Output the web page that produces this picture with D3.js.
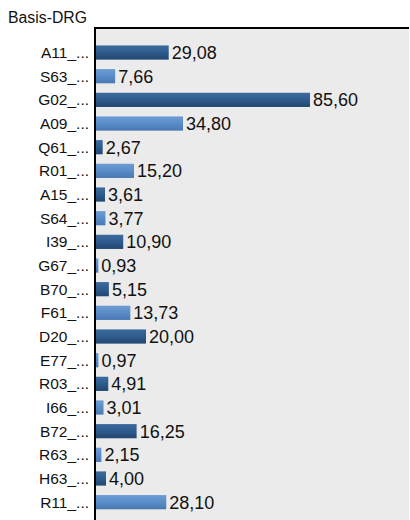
<!DOCTYPE html>
<html lang="de">
  <head>
    <meta charset="UTF-8" />
    <title>Basis-DRG</title>
    <style>
      body { margin: 0; background: #fff; }
      svg text { font-family: "Liberation Sans", Arial, sans-serif; fill: #111; }
    </style>
  </head>
  <body>
    <svg id="svg" width="410" height="520"></svg>

    <script src="https://d3js.org/d3.v7.min.js"></script>
    <script>
      const categories = ["A11_...", "S63_...", "G02_...", "A09_...", "Q61_...", "R01_...", "A15_...",
        "S64_...", "I39_...", "G67_...", "B70_...", "F61_...", "D20_...", "E77_...", "R03_...",
        "I66_...", "B72_...", "R63_...", "H63_...", "R11_..."];
      const values = [29.08, 7.66, 85.6, 34.8, 2.67, 15.2, 3.61, 3.77, 10.9, 0.93, 5.15, 13.73,
        20.0, 0.97, 4.91, 3.01, 16.25, 2.15, 4.0, 28.1];
      const title = "Basis-DRG";

      const data = categories.map((c, i) => ({ name: c, value: values[i] }));

      const svg = d3.select("#svg");
      const plotLeft = 96, plotTop = 28, plotRight = 409;

      // value axis: 2.5 px per unit
      const x = d3.scaleLinear().domain([0, 125.2]).range([plotLeft, plotRight]);
      const y = d3.scaleBand()
        .domain(categories)
        .range([40.7, 514])
        .paddingInner(0.4)
        .paddingOuter(0.2);

      // gradients
      const defs = svg.append("defs");
      const grads = {
        dark: ["#3d6b9c", "#2f5d90", "#234670"],
        light: ["#6c9cd2", "#5c8ec9", "#4878b2"],
      };
      Object.entries(grads).forEach(([id, c]) => {
        const g = defs.append("linearGradient").attr("id", id)
          .attr("x1", 0).attr("y1", 0).attr("x2", 0).attr("y2", 1);
        g.append("stop").attr("offset", "0%").attr("stop-color", c[0]);
        g.append("stop").attr("offset", "45%").attr("stop-color", c[1]);
        g.append("stop").attr("offset", "100%").attr("stop-color", c[2]);
      });

      // plot background
      svg.append("rect")
        .attr("x", plotLeft - 1).attr("y", plotTop)
        .attr("width", plotRight - plotLeft + 1).attr("height", 520 - plotTop)
        .attr("fill", "#ebebeb");

      svg.append("text")
        .attr("x", 8).attr("y", 23)
        .style("font-size", "15.8px")
        .text(title);

      // bars
      svg.selectAll("rect.bar")
        .data(data)
        .enter()
        .append("rect")
        .attr("class", "bar")
        .attr("x", x(0))
        .attr("y", (d) => y(d.name))
        .attr("width", (d) => x(d.value) - x(0))
        .attr("height", y.bandwidth())
        .attr("fill", (d, i) => (i % 2 === 0 ? "url(#dark)" : "url(#light)"));

      // value labels
      svg.selectAll("text.val")
        .data(data)
        .enter()
        .append("text")
        .attr("class", "val")
        .attr("x", (d) => x(d.value) + 3)
        .attr("y", (d) => y(d.name) + y.bandwidth() / 2)
        .attr("dy", "0.36em")
        .style("font-size", "18px")
        .text((d) => d.value.toFixed(2).replace(".", ","));

      // category labels
      svg.selectAll("text.cat")
        .data(data)
        .enter()
        .append("text")
        .attr("class", "cat")
        .attr("x", 89)
        .attr("y", (d) => y(d.name) + y.bandwidth() / 2)
        .attr("dy", "0.36em")
        .attr("text-anchor", "end")
        .style("font-size", "15.5px")
        .text((d) => d.name);

      // frame lines
      svg.append("line")
        .attr("x1", plotLeft - 1).attr("x2", plotLeft - 1)
        .attr("y1", plotTop).attr("y2", 520)
        .attr("stroke", "#000").attr("stroke-width", 2);
      svg.append("line")
        .attr("x1", plotLeft - 2).attr("x2", plotRight)
        .attr("y1", plotTop).attr("y2", plotTop)
        .attr("stroke", "#000").attr("stroke-width", 2);
    </script>
  </body>
</html>
